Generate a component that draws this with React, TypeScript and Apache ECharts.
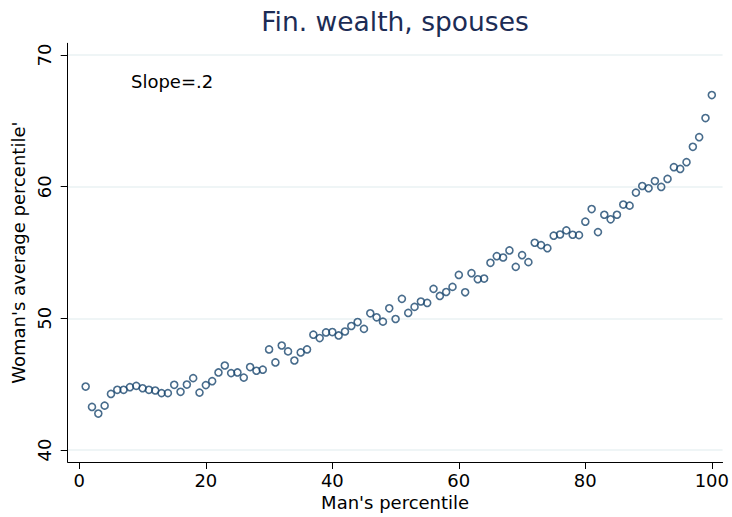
import React, { useEffect, useRef } from "react";
import * as echarts from "echarts";

const titleText = "Fin. wealth, spouses";
const xAxisTitle = "Man's percentile";
const yAxisTitle = "Woman's average percentile'";
const annotation = "Slope=.2";

const xTicks = [0, 20, 40, 60, 80, 100];
const yTicks = [40, 50, 60, 70];

const manPercentile = Array.from({ length: 100 }, (_, i) => i + 1);
const womanAvgPercentile = [
  44.82, 43.27, 42.77, 43.37, 44.26, 44.57, 44.57, 44.77, 44.87, 44.69,
  44.57, 44.52, 44.32, 44.32, 44.95, 44.42, 44.97, 45.46, 44.36, 44.93,
  45.23, 45.89, 46.42, 45.84, 45.89, 45.5, 46.3, 46.02, 46.1, 47.64,
  46.65, 47.94, 47.49, 46.8, 47.41, 47.64, 48.76, 48.5, 48.93, 48.96,
  48.7, 49.0, 49.42, 49.72, 49.2, 50.38, 50.08, 49.75, 50.76, 49.95,
  51.48, 50.41, 50.87, 51.28, 51.17, 52.24, 51.7, 52.0, 52.39, 53.3,
  51.98, 53.43, 52.97, 53.02, 54.22, 54.72, 54.62, 55.16, 53.91, 54.8,
  54.27, 55.74, 55.56, 55.33, 56.28, 56.37, 56.68, 56.35, 56.32, 57.34,
  58.3, 56.55, 57.87, 57.52, 57.87, 58.64, 58.56, 59.55, 60.05, 59.88,
  60.43, 59.98, 60.59, 61.48, 61.35, 61.86, 63.03, 63.76, 65.21, 66.96,
];

const FONT = "DejaVu Sans";

export default function App() {
  const ref = useRef<HTMLDivElement>(null);
  useEffect(() => {
    if (!ref.current) return;
    const chart = echarts.init(ref.current, undefined, { renderer: "svg" });
    const data = manPercentile.map((x, i) => [x, womanAvgPercentile[i]]);
    chart.setOption({
      animation: false,
      backgroundColor: "#ffffff",
      textStyle: { fontFamily: FONT },
      title: {
        text: titleText,
        left: 395,
        top: 8,
        padding: 0,
        textAlign: "center",
        textStyle: { fontFamily: FONT, fontSize: 26.5, fontWeight: "normal", color: "#1c2c55" },
      },
      grid: { left: 67.7, right: 9, top: 43.3, bottom: 55, containLabel: false },
      xAxis: {
        type: "value",
        min: -1.84,
        max: 101.7,
        name: xAxisTitle,
        nameLocation: "middle",
        nameGap: 31,
        nameTextStyle: { fontFamily: FONT, fontSize: 18, color: "#000" },
        axisLine: { show: true, onZero: false, lineStyle: { color: "#000", width: 1 } },
        axisTick: { show: true, length: 7, customValues: xTicks, lineStyle: { color: "#000" } },
        axisLabel: { customValues: xTicks, fontFamily: FONT, fontSize: 18, color: "#000", margin: 9 },
        splitLine: { show: false },
      },
      yAxis: {
        type: "value",
        min: 39.09,
        max: 70.89,
        name: yAxisTitle,
        nameLocation: "middle",
        nameGap: 32,
        nameRotate: 90,
        nameTextStyle: { fontFamily: FONT, fontSize: 18, color: "#000" },
        axisLine: { show: true, onZero: false, lineStyle: { color: "#000", width: 1 } },
        axisTick: { show: true, length: 7, customValues: yTicks, lineStyle: { color: "#000" } },
        axisLabel: { customValues: yTicks, rotate: 90, fontFamily: FONT, fontSize: 18, color: "#000", margin: 14 },
        splitLine: { show: true, lineStyle: { color: "#eaf2f3", width: 1.5 } },
      },
      graphic: [
        {
          type: "text",
          left: 131,
          top: 72,
          style: { text: annotation, fontFamily: FONT, fontSize: 18, fill: "#000" },
        },
      ],
      series: [
        {
          type: "scatter",
          data,
          symbol: "circle",
          symbolSize: 7,
          itemStyle: { color: "rgba(255,255,255,0)", borderColor: "#1a476f", borderWidth: 1.6 },
        },
      ],
    });
    return () => chart.dispose();
  }, []);
  return (
    <div
      ref={ref}
      style={{ position: "absolute", left: 0, top: 0, width: 732, height: 517 }}
    />
  );
}
